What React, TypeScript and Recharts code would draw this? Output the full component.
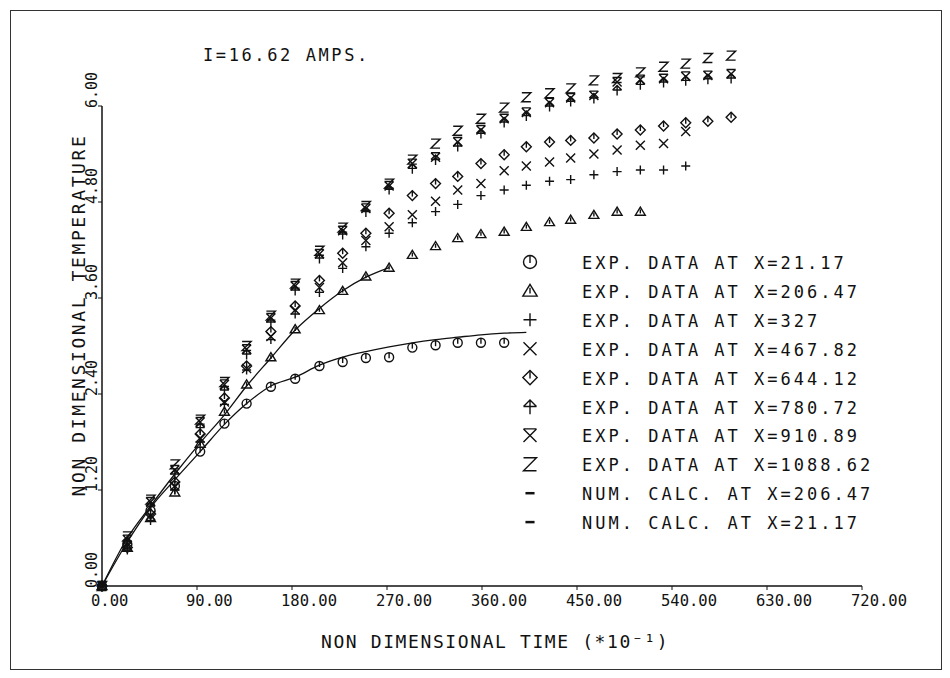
import { ComposedChart, Scatter, Line, XAxis, YAxis, ReferenceLine, Legend } from "recharts";

const FONT = '"DejaVu Sans Mono", monospace';
const INK = "#111";

// non dimensional time (*10^-1) of each reading
const times = [0, 24, 46, 69, 93, 116, 137, 160, 183, 206, 228, 250, 272, 294, 316, 337, 359, 381, 402, 424, 444, 466, 488, 510, 532, 553, 574, 596];

// experimental data, one list per station X
const exp21 = [0, 0.52, 0.94, 1.25, 1.68, 2.03, 2.28, 2.49, 2.59, 2.75, 2.8, 2.85, 2.86, 2.98, 3.01, 3.04, 3.04, 3.04];
const exp206 = [0, 0.48, 0.85, 1.17, 1.78, 2.18, 2.52, 2.86, 3.21, 3.45, 3.69, 3.87, 3.98, 4.14, 4.25, 4.35, 4.4, 4.43, 4.49, 4.55, 4.58, 4.64, 4.68, 4.68];
const exp327 = [0, 0.45, 0.82, 1.2, 1.8, 2.27, 2.7, 3.08, 3.4, 3.67, 3.97, 4.24, 4.41, 4.54, 4.68, 4.77, 4.88, 4.95, 5.01, 5.06, 5.08, 5.14, 5.18, 5.2, 5.2, 5.25];
const exp467 = [0, 0.5, 0.88, 1.25, 1.85, 2.3, 2.72, 3.12, 3.45, 3.73, 4.04, 4.32, 4.49, 4.64, 4.81, 4.95, 5.03, 5.19, 5.25, 5.3, 5.35, 5.4, 5.45, 5.51, 5.53, 5.68];
const exp644 = [0, 0.48, 0.9, 1.3, 1.9, 2.35, 2.75, 3.18, 3.5, 3.82, 4.16, 4.41, 4.66, 4.88, 5.03, 5.12, 5.28, 5.39, 5.49, 5.55, 5.57, 5.6, 5.65, 5.7, 5.75, 5.79, 5.81, 5.86];
const exp780 = [0, 0.55, 1.0, 1.4, 1.98, 2.45, 2.9, 3.3, 3.7, 4.1, 4.4, 4.68, 4.96, 5.22, 5.33, 5.5, 5.66, 5.8, 5.88, 6.0, 6.06, 6.1, 6.2, 6.27, 6.3, 6.32, 6.34, 6.35];
const exp910 = [0, 0.58, 1.05, 1.45, 2.05, 2.52, 2.96, 3.35, 3.75, 4.15, 4.44, 4.72, 5.0, 5.28, 5.36, 5.55, 5.7, 5.84, 5.92, 6.04, 6.1, 6.13, 6.3, 6.33, 6.34, 6.37, 6.38, 6.4];
const exp1088 = [0, 0.62, 1.08, 1.52, 2.08, 2.55, 3.0, 3.38, 3.78, 4.19, 4.48, 4.75, 5.03, 5.33, 5.53, 5.69, 5.84, 5.98, 6.11, 6.16, 6.22, 6.32, 6.35, 6.42, 6.49, 6.53, 6.6, 6.63];

// numerical calculation curves
const calc206 = [0, 0.6, 1.0, 1.4, 1.79, 2.14, 2.5, 2.85, 3.2, 3.47, 3.69, 3.86, 3.98];
const calc21 = [0, 0.55, 0.98, 1.33, 1.68, 2.02, 2.28, 2.5, 2.61, 2.76, 2.86, 2.93, 2.99, 3.04, 3.08, 3.11, 3.14, 3.16, 3.17];

const xTicks = [0, 90, 180, 270, 360, 450, 540, 630, 720];
const yTicks = [0, 1.2, 2.4, 3.6, 4.8, 6.0];

const legendLabels = [
  "EXP. DATA AT X=21.17",
  "EXP. DATA AT X=206.47",
  "EXP. DATA AT X=327",
  "EXP. DATA AT X=467.82",
  "EXP. DATA AT X=644.12",
  "EXP. DATA AT X=780.72",
  "EXP. DATA AT X=910.89",
  "EXP. DATA AT X=1088.62",
  "NUM. CALC. AT X=206.47",
  "NUM. CALC. AT X=21.17",
];
const legendKinds = ["circle", "triangle", "plus", "cross", "diamond", "arrow", "hourglass", "z", "dash", "dash"];

const toPoints = (vals: number[]) => vals.map((v, i) => ({ t: times[i], v }));

const series = [
  { name: "x21", kind: "circle", data: toPoints(exp21) },
  { name: "x206", kind: "triangle", data: toPoints(exp206) },
  { name: "x327", kind: "plus", data: toPoints(exp327) },
  { name: "x467", kind: "cross", data: toPoints(exp467) },
  { name: "x644", kind: "diamond", data: toPoints(exp644) },
  { name: "x780", kind: "arrow", data: toPoints(exp780) },
  { name: "x910", kind: "hourglass", data: toPoints(exp910) },
  { name: "x1088", kind: "z", data: toPoints(exp1088) },
];

function marker(kind: string, cx: number, cy: number, s: number) {
  const p = { fill: "none", stroke: INK, strokeWidth: 1.4 };
  switch (kind) {
    case "circle":
      return (
        <g>
          <circle cx={cx} cy={cy} r={s} {...p} />
          <line x1={cx} y1={cy - s} x2={cx} y2={cy + 1} {...p} />
        </g>
      );
    case "triangle":
      return (
        <g>
          <path d={`M${cx},${cy - s} L${cx + s * 1.1},${cy + s * 0.8} L${cx - s * 1.1},${cy + s * 0.8} Z`} {...p} />
          <line x1={cx} y1={cy - s * 0.5} x2={cx} y2={cy + s * 0.4} {...p} />
        </g>
      );
    case "plus":
      return <path d={`M${cx - s},${cy} H${cx + s} M${cx},${cy - s} V${cy + s}`} {...p} />;
    case "cross":
      return <path d={`M${cx - s},${cy - s} L${cx + s},${cy + s} M${cx + s},${cy - s} L${cx - s},${cy + s}`} {...p} />;
    case "diamond":
      return (
        <g>
          <path d={`M${cx},${cy - s * 1.1} L${cx + s * 1.1},${cy} L${cx},${cy + s * 1.1} L${cx - s * 1.1},${cy} Z`} {...p} />
          <line x1={cx} y1={cy - s * 1.1} x2={cx} y2={cy + 1} {...p} />
        </g>
      );
    case "arrow":
      return (
        <path
          d={`M${cx - s},${cy} L${cx},${cy - s} L${cx + s},${cy} M${cx - s},${cy} H${cx + s} M${cx},${cy - s} V${cy + s * 1.2}`}
          {...p}
        />
      );
    case "hourglass":
      return (
        <path
          d={`M${cx - s},${cy - s} H${cx + s} M${cx - s},${cy - s} L${cx + s},${cy + s} M${cx + s},${cy - s} L${cx - s},${cy + s}`}
          {...p}
        />
      );
    case "z":
      return <path d={`M${cx - s},${cy - s} H${cx + s} L${cx - s},${cy + s} H${cx + s}`} {...p} />;
    default:
      return <line x1={cx - s * 0.7} y1={cy} x2={cx + s * 0.7} y2={cy} stroke={INK} strokeWidth={2.5} />;
  }
}

function XTick(props: any) {
  const { x, payload } = props;
  return (
    <text x={x - 11} y={606} fontFamily={FONT} fontSize={15.5} fill={INK}>
      {Number(payload.value).toFixed(2)}
    </text>
  );
}

function YTick(props: any) {
  const { y, payload } = props;
  return (
    <text transform={`translate(97,${y + 2}) rotate(-90)`} fontFamily={FONT} fontSize={15} fill={INK}>
      {Number(payload.value).toFixed(2)}
    </text>
  );
}

function LegendBox() {
  const left = 500;
  const top = 240;
  return (
    <svg width={420} height={300} style={{ overflow: "visible" }}>
      {legendLabels.map((label, i) => {
        const y = 262 + 28.9 * i - top;
        return (
          <g key={label}>
            {marker(legendKinds[i], 530 - left, y, 6.5)}
            <text x={582 - left} y={y + 7} fontFamily={FONT} fontSize={17} letterSpacing={3} fill={INK}>
              {label}
            </text>
          </g>
        );
      })}
    </svg>
  );
}

export default function App() {
  return (
    <div style={{ position: "relative", width: 950, height: 678, background: "#fff" }}>
      <style>{"body{margin:0;background:#fff}"}</style>
      <div
        style={{ position: "absolute", left: 10, top: 10, width: 930, height: 658, border: "1.5px solid #333" }}
      />
      <svg width={950} height={678} style={{ position: "absolute", left: 0, top: 0 }}>
        <text x={203} y={61} fontFamily={FONT} fontSize={17} letterSpacing={2.6} fill={INK}>
          I=16.62 AMPS.
        </text>
        <text x={321} y={648} fontFamily={FONT} fontSize={18} letterSpacing={1.6} fill={INK}>
          NON DIMENSIONAL TIME (*10⁻¹)
        </text>
        <text
          transform="translate(85,315) rotate(-90)"
          textAnchor="middle"
          fontFamily={FONT}
          fontSize={18}
          letterSpacing={2.6}
          fill={INK}
        >
          NON DIMENSIONAL TEMPERATURE
        </text>
      </svg>
      <ComposedChart
        width={950}
        height={678}
        margin={{ top: 10, right: 88, bottom: 62, left: 72 }}
        style={{ position: "absolute", left: 0, top: 0 }}
      >
        <XAxis
          type="number"
          dataKey="t"
          domain={[0, 720]}
          ticks={xTicks}
          height={30}
          tickSize={4}
          tick={<XTick />}
          axisLine={{ stroke: INK, strokeWidth: 1.5 }}
          tickLine={{ stroke: INK }}
          interval={0}
        />
        <YAxis
          type="number"
          dataKey="v"
          domain={[0, 7.2]}
          ticks={yTicks}
          width={30}
          tickSize={4}
          tick={<YTick />}
          axisLine={false}
          tickLine={{ stroke: INK }}
          interval={0}
        />
        <ReferenceLine
          segment={[
            { x: 0, y: 0 },
            { x: 0, y: 6 },
          ]}
          stroke={INK}
          strokeWidth={1.5}
        />
        {series.map((s) => (
          <Scatter
            key={s.name}
            name={s.name}
            data={s.data}
            isAnimationActive={false}
            shape={(props: any) => marker(s.kind, props.cx, props.cy, 4.5)}
          />
        ))}
        <Line
          data={toPoints(calc206)}
          dataKey="v"
          type="monotone"
          stroke={INK}
          strokeWidth={1.3}
          dot={false}
          isAnimationActive={false}
        />
        <Line
          data={toPoints(calc21)}
          dataKey="v"
          type="monotone"
          stroke={INK}
          strokeWidth={1.3}
          dot={false}
          isAnimationActive={false}
        />
        <Legend
          layout="vertical"
          align="center"
          verticalAlign="middle"
          content={() => <LegendBox />}
          wrapperStyle={{ left: 500, top: 240, width: 420, height: 300 }}
        />
      </ComposedChart>
    </div>
  );
}
